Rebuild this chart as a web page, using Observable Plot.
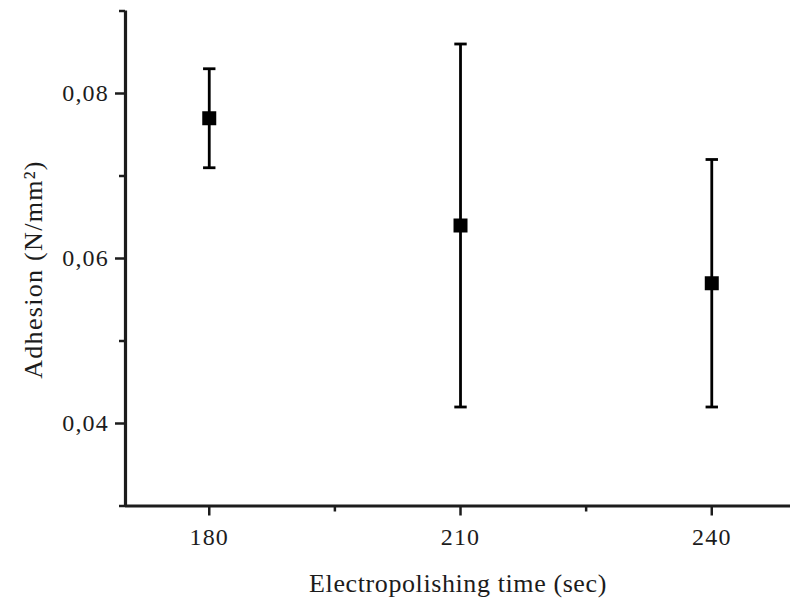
<!DOCTYPE html>
<html>
<head>
<meta charset="utf-8">
<script src="https://cdn.jsdelivr.net/npm/d3@7"></script>
<script src="https://cdn.jsdelivr.net/npm/@observablehq/plot@0.6"></script>
<style>
  html, body { margin: 0; padding: 0; background: #fff; }
  g[aria-label="y-axis tick label"], g[aria-label="x-axis tick label"] { font-size: 24px; }
  g[aria-label="y-axis tick label"] text, g[aria-label="x-axis tick label"] text { letter-spacing: 1.2px; }
</style>
</head>
<body>
<div id="chart"></div>
<script>
// Data
const times = [180, 210, 240];
const adhesion = [0.077, 0.064, 0.057];
const lower = [0.071, 0.042, 0.042];
const upper = [0.083, 0.086, 0.072];

const xMajorTicks = [180, 210, 240];
const xMinorTicks = [195, 225];
const yMajorTicks = [0.04, 0.06, 0.08];
const yMinorTicks = [0.03, 0.05, 0.07, 0.09];

const xLabel = "Electropolishing time (sec)";
const yLabel = "Adhesion (N/mm²)";

const data = times.map((t, i) => ({t, v: adhesion[i], lo: lower[i], hi: upper[i]}));

const capSymbol = {
  draw(ctx, size) {
    const w = 6.2;
    ctx.moveTo(-w, 0);
    ctx.lineTo(w, 0);
  }
};

const font = "'Liberation Serif', 'DejaVu Serif', serif";

const chart = Plot.plot({
  width: 790,
  height: 606,
  marginLeft: 125,
  marginRight: 0,
  marginTop: 10.5,
  marginBottom: 100.5,
  style: {fontFamily: font, fontSize: "24px", color: "#1c1c1c", background: "#fff"},
  x: {domain: [170, 249.4]},
  y: {domain: [0.03, 0.09]},
  marks: [
    // minor ticks
    Plot.axisY(yMinorTicks, {tickSize: 6, strokeWidth: 2.5, tickFormat: () => "", label: null}),
    Plot.axisX(xMinorTicks, {tickSize: 6, strokeWidth: 2.5, tickFormat: () => "", label: null}),
    // major ticks
    Plot.axisY(yMajorTicks, {
      tickSize: 10, strokeWidth: 2.5, tickPadding: 6.5,
      tickFormat: d => d.toFixed(2).replace(".", ","),
      fontSize: 24, label: null
    }),
    Plot.axisX(xMajorTicks, {
      tickSize: 10, strokeWidth: 2.5, tickPadding: 12,
      fontSize: 24, label: null
    }),
    // axis lines
    Plot.ruleX([170], {strokeWidth: 3.2}),
    Plot.ruleY([0.03], {strokeWidth: 3.2}),
    // axis titles
    Plot.text([xLabel], {frameAnchor: "bottom", text: d => d, dy: 85.5, fontSize: 26, lineAnchor: "bottom"}),
    Plot.text([yLabel], {frameAnchor: "left", textAnchor: "middle", text: d => d, rotate: -90, dx: -101.5, dy: 11, fontSize: 26, lineAnchor: "top"}),
    // error bars
    Plot.ruleX(data, {x: "t", y1: "lo", y2: "hi", strokeWidth: 2.8, stroke: "#000"}),
    Plot.dot(data, {x: "t", y: "lo", symbol: capSymbol, stroke: "#000", strokeWidth: 2.8, r: 5}),
    Plot.dot(data, {x: "t", y: "hi", symbol: capSymbol, stroke: "#000", strokeWidth: 2.8, r: 5}),
    // markers
    Plot.dot(data, {x: "t", y: "v", symbol: "square", fill: "#000", stroke: null, r: 7.9})
  ]
});

// letter spacing for the axis titles (wider Garamond-like look)
d3.select(chart).selectAll("text")
  .filter(function() { return this.textContent === xLabel; })
  .style("letter-spacing", "0.6px");
d3.select(chart).selectAll("text")
  .filter(function() { return this.textContent === yLabel; })
  .style("letter-spacing", "1.3px");

document.getElementById("chart").appendChild(chart);
</script>
</body>
</html>
